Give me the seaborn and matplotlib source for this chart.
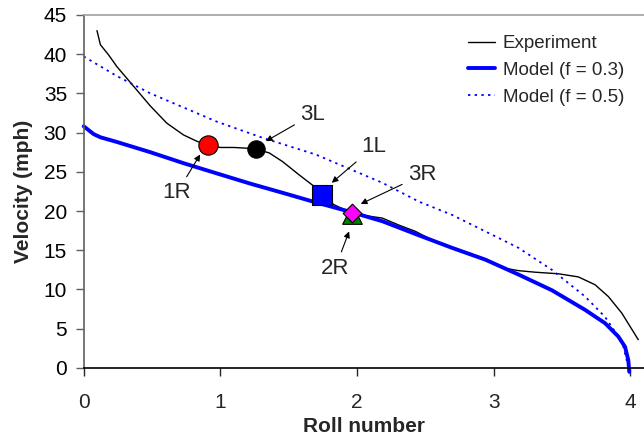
import numpy as np
import pandas as pd
import matplotlib
matplotlib.use("Agg")
import matplotlib.pyplot as plt
import seaborn as sns

# ── DATA ─────────────────────────────────────────────────────────
exp_x = [0.097, 0.122, 0.182, 0.243, 0.365, 0.487, 0.608, 0.730, 0.827,
         0.907, 1.0, 1.1, 1.20, 1.26, 1.358, 1.455, 1.577, 1.674, 1.742,
         1.832, 1.966, 2.063, 2.185, 2.307, 2.428, 2.55, 2.696, 2.939,
         3.085, 3.182, 3.304, 3.474, 3.62, 3.742, 3.839, 3.937, 4.058]
exp_y = [43.0, 41.2, 39.9, 38.4, 35.9, 33.4, 31.2, 29.7, 28.9,
         28.4, 28.1, 28.1, 28.0, 27.9, 27.4, 26.3, 24.6, 23.3, 22.0,
         20.8, 19.7, 19.4, 19.1, 18.2, 17.4, 16.3, 15.4, 13.9,
         12.7, 12.4, 12.2, 12.0, 11.6, 10.6, 9.1, 7.0, 3.6]

m03_x = [0.0, 0.073, 0.122, 0.243, 0.487, 0.730, 0.973, 1.217, 1.46,
         1.698, 1.95, 2.185, 2.453, 2.696, 2.939, 3.182, 3.426, 3.669,
         3.815, 3.912, 3.961, 3.985, 3.99, 3.992]
m03_y = [30.8, 29.8, 29.4, 28.8, 27.5, 26.1, 24.8, 23.5, 22.3,
         21.1, 19.9, 18.7, 16.9, 15.3, 13.8, 11.9, 9.9, 7.4,
         5.7, 4.0, 2.7, 1.0, 0.0, -0.5]

m05_x = [0.0, 0.243, 0.487, 0.73, 0.973, 1.314, 1.698, 2.185, 2.453,
         2.696, 2.939, 3.182, 3.426, 3.669, 3.815, 3.912, 3.949, 3.973,
         3.985]
m05_y = [39.7, 37.2, 35.0, 33.2, 31.4, 29.3, 27.2, 23.6, 21.2,
         19.5, 17.4, 15.3, 12.5, 9.1, 6.5, 4.0, 2.7, 1.0,
         0.0]

# sensor points: label, x, y
pt_labels = ["1R", "3L", "1L", "2R", "3R"]
pt_x = [0.907, 1.26, 1.742, 1.966, 1.966]
pt_y = [28.4, 27.9, 22.0, 19.6, 19.7]

# annotation text positions and arrow tips
ann_text_x = [0.681, 1.674, 2.124, 1.84, 2.477]
ann_text_y = [22.3, 32.3, 28.2, 12.7, 24.6]
ann_tip_x = [0.852, 1.333, 1.815, 1.942, 2.027]
ann_tip_y = [27.2, 28.9, 23.6, 17.4, 20.9]

# ── PLOT ─────────────────────────────────────────────────────────
sns.set_style("white")
plt.rcParams["font.family"] = ["Liberation Sans", "DejaVu Sans"]

fig = plt.figure(figsize=(6.44, 4.38), dpi=100)
ax = fig.add_axes([0.130, 0.160, 0.870, 0.806])

sns.lineplot(x=exp_x, y=exp_y, ax=ax, color="black", lw=1.0,
             label="Experiment", sort=False)
sns.lineplot(x=m03_x, y=m03_y, ax=ax, color="#0000ff", lw=2.8,
             label="Model (f = 0.3)", sort=False)
ax.lines[-1].set_clip_on(False)
sns.lineplot(x=m05_x, y=m05_y, ax=ax, color="#0000ff", lw=1.3,
             linestyle=(0, (1.3, 2.4)), label="Model (f = 0.5)", sort=False)

styles = {
    "1R": dict(marker="o", color="#ff0000", s=193),
    "3L": dict(marker="o", color="black", s=156),
    "1L": dict(marker="s", color="#0000ff", s=190),
    "2R": dict(marker="^", color="#008000", s=200),
    "3R": dict(marker="D", color="#ff00ff", s=90),
}
for lab, x, y in zip(pt_labels, pt_x, pt_y):
    st = styles[lab]
    sns.scatterplot(x=[x], y=[y], ax=ax, marker=st["marker"], color=st["color"],
                    s=st["s"], edgecolor="black", linewidth=0.8, zorder=5,
                    legend=False)

for lab, tx, ty, ax_, ay_ in zip(pt_labels, ann_text_x, ann_text_y,
                                 ann_tip_x, ann_tip_y):
    ax.annotate(lab, xy=(ax_, ay_), xytext=(tx, ty), fontsize=16,
                ha="center", va="center",
                arrowprops=dict(arrowstyle="-|>", color="black", lw=0.8,
                                mutation_scale=9, shrinkA=2, shrinkB=0))

ax.set_xlim(0, 4.1)
ax.set_ylim(0, 45)
ax.set_xticks([0, 1, 2, 3, 4])
ax.set_yticks(range(0, 46, 5))
ax.tick_params(axis="both", labelsize=15, length=6, width=1, direction="out",
               bottom=True, left=True)
ax.tick_params(axis="x", pad=12)
ax.tick_params(axis="y", pad=6, colors="#606060", labelcolor="black")
ax.set_xlabel("Roll number", fontsize=15, fontweight="bold", labelpad=4)
ax.set_ylabel("Velocity (mph)", fontsize=15, fontweight="bold", labelpad=8)

ax.spines["right"].set_visible(False)
ax.spines["top"].set_color("#a0a0a0")
ax.spines["left"].set_color("#606060")
ax.spines["bottom"].set_color("black")
for s in ax.spines.values():
    s.set_linewidth(1.2)

ax.legend(loc="upper left", bbox_to_anchor=(468 / 644, 1 - 35 / 438),
          bbox_transform=fig.transFigure, frameon=False, fontsize=13.5,
          handlelength=1.45, handletextpad=0.4, labelspacing=0.52,
          borderpad=0, borderaxespad=0)

fig.savefig("out.png", dpi=100)
